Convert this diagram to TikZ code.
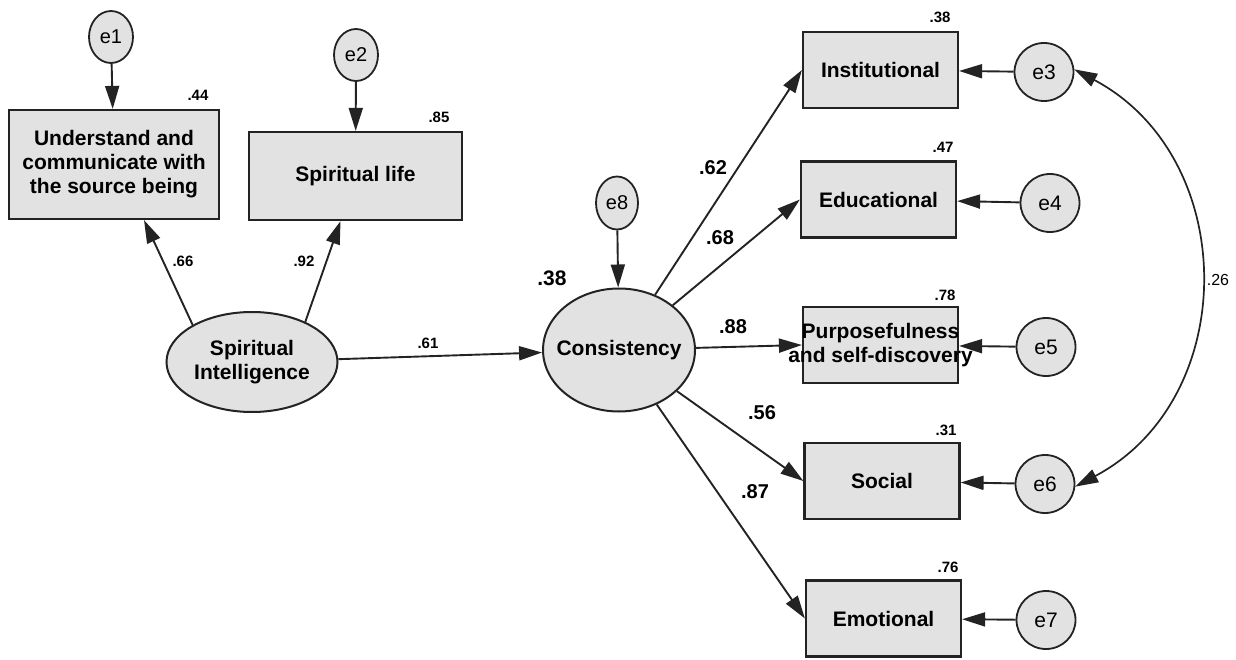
\documentclass[tikz,border=0pt]{standalone}
\usepackage{fontspec}
\setmainfont{Liberation Sans}
\usetikzlibrary{arrows.meta,shapes.geometric}
\definecolor{boxgray}{RGB}{226,226,226}
\definecolor{inkgray}{RGB}{35,35,35}

\begin{document}
\begin{tikzpicture}[x=1pt,y=1pt,
    obs/.style={draw=inkgray,line width=2.2pt,fill=boxgray,inner sep=0pt,
        minimum width=155pt,minimum height=76pt,align=center,
        font=\fontsize{21}{24}\selectfont\bfseries},
    lat/.style={ellipse,draw=inkgray,line width=2pt,fill=boxgray,inner sep=0pt,
        align=center,font=\fontsize{21}{24}\selectfont\bfseries},
    err/.style={ellipse,draw=inkgray,line width=1.8pt,fill=boxgray,inner sep=0pt,
        minimum width=59pt,minimum height=58pt,font=\fontsize{21}{24}\selectfont},
    errsm/.style={err,minimum width=44pt,minimum height=52pt,
        font=\fontsize{20}{22}\selectfont},
    arr/.style={-{Triangle[length=23pt,width=14pt]},line width=1.9pt,draw=inkgray},
    sm/.style={font=\fontsize{15}{17}\selectfont\bfseries,inner sep=0pt},
    big/.style={font=\fontsize{20}{22}\selectfont\bfseries,inner sep=0pt}]
    \useasboundingbox (0,0) rectangle (1236,-660);

    % left part
    \node[obs,minimum width=210pt,minimum height=109pt] (und) at (114,-164.5)
        {Understand and\\communicate with\\the source being};
    \node[obs,minimum width=213pt,minimum height=88pt] (spl) at (355.5,-176)
        {Spiritual life};
    \node[errsm] (e1) at (111,-37) {e1};
    \node[errsm] (e2) at (356,-55) {e2};
    \node[lat,minimum width=171pt,minimum height=100pt] (si) at (252,-362)
        {Spiritual\\Intelligence};
    \node[lat,minimum width=152pt,minimum height=123pt] (con) at (619,-350)
        {\makebox[0pt]{Consistency}};
    \node[errsm,minimum width=42pt,minimum height=53pt] (e8) at (617,-203) {e8};

    % right part
    \node[obs] (inst) at (880.5,-70) {Institutional};
    \node[obs] (edu) at (878.5,-199.5) {Educational};
    \node[obs] (purp) at (880.5,-345)
        {\makebox[0pt]{Purposefulness}\\\makebox[0pt]{and self-discovery}};
    \node[obs] (soc) at (882,-481) {Social};
    \node[obs] (emo) at (883.5,-618.5) {Emotional};
    \node[err] (e3) at (1044,-72) {e3};
    \node[err] (e4) at (1050,-203) {e4};
    \node[err] (e5) at (1046,-347) {e5};
    \node[err] (e6) at (1045,-484) {e6};
    \node[err] (e7) at (1046,-620) {e7};

    \draw[arr] (e1) -- (und);
    \draw[arr] (e2) -- (spl);
    \draw[arr] (si.148) -- ([xshift=30pt]und.south);
    \draw[arr] (si.37) -- ([xshift=-15pt]spl.south);
    \draw[arr] (si) -- (con);
    \draw[arr] (e8) -- (con);
    \foreach \t in {inst,edu,purp,soc,emo}
        \draw[arr] (con) -- (\t.west);
    \foreach \e/\t in {e3/inst,e4/edu,e5/purp,e6/soc,e7/emo}
        \draw[arr] (\e) -- (\t);
    \draw[{Triangle[length=23pt,width=14pt]}-{Triangle[length=23pt,width=14pt]},
        line width=1.7pt,draw=inkgray]
        (e3.5) to[out=-28,in=28,looseness=1.15] (e6.-5);

    % estimates
    \node[sm] (r44) at (198,-95) {.44};
    \node[sm] (r85) at (439,-117) {.85};
    \node[sm] (w66) at (183,-261) {.66};
    \node[sm] (w92) at (304,-261) {.92};
    \node[sm] (w61) at (428,-343) {.61};
    \node[big,font=\fontsize{21}{23}\selectfont\bfseries] (r38c) at (552,-278) {.38};
    \node[sm] (r38) at (940,-17) {.38};
    \node[sm] (r47) at (943,-147) {.47};
    \node[sm] (r78) at (945,-295) {.78};
    \node[sm] (r31) at (946,-430) {.31};
    \node[sm] (r76) at (948,-567) {.76};
    \node[big] (w62) at (713,-168) {.62};
    \node[big] (w68) at (720,-238) {.68};
    \node[big] (w88) at (733,-327) {.88};
    \node[big] (w56) at (762,-413) {.56};
    \node[big] (w87) at (755,-492) {.87};
    \node[font=\fontsize{16}{18}\selectfont,inner sep=0pt] (c26) at (1218,-280) {.26};
\end{tikzpicture}
\end{document}
